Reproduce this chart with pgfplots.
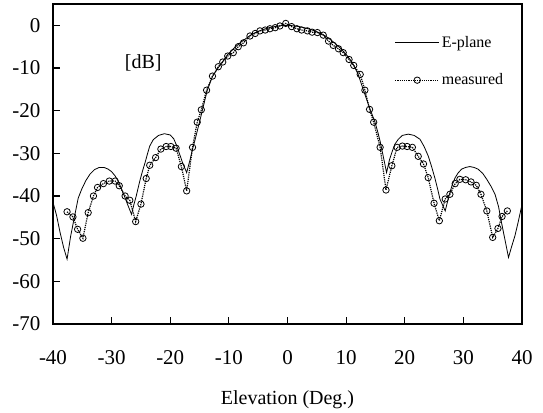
\documentclass[border=0pt]{standalone}
\usepackage{fontspec}
\setmainfont{Liberation Serif}
\usepackage{pgfplots}
\pgfplotsset{compat=1.18}
\usetikzlibrary{calc}

\begin{document}
\begin{tikzpicture}
\begin{axis}[
    scale only axis,
    width=469pt, height=320pt,
    xmin=-40, xmax=40,
    ymin=-70, ymax=5,
    xtick={-40,-30,...,40},
    ytick={-70,-60,...,0},
    tick pos=left,
    tick align=inside,
    major tick length=7pt,
    axis line style={line width=1.4pt},
    every tick/.style={black, line width=1.2pt},
    /pgf/number format/assume math mode=true,
    ticklabel style={font=\fontsize{21}{24}\selectfont},
    xticklabel style={yshift=-23pt},
    yticklabel style={xshift=-9pt},
    xlabel={Elevation (Deg.)},
    xlabel style={font=\fontsize{20}{24}\selectfont, yshift=-19pt},
    legend style={draw=none, fill=none, at={(0.728,0.906)}, anchor=north west,
        font=\fontsize{16}{19}\selectfont, row sep=21pt, inner sep=0pt},
    legend cell align=left,
    legend image code/.code={\draw[mark repeat=2,mark phase=2,#1] plot coordinates {(0pt,0pt) (22pt,0pt) (44pt,0pt)};},
]
% computed E-plane pattern
\addplot[black, line width=0.8pt] coordinates {
(-40,-41.5) (-39.4,-44.5) (-38.8,-48.5) (-38.2,-52) (-37.6,-54.8) (-37.0,-49.5)
(-36.5,-46.0) (-36.2,-43.9) (-35.7,-40.5) (-35.1,-38.4) (-34.4,-36.4) (-33.7,-34.9)
(-32.9,-33.8) (-32.1,-33.3) (-31.3,-33.3) (-30.6,-33.7) (-30.0,-34.3) (-29.4,-35.3)
(-28.8,-36.7) (-28.3,-38.4) (-27.8,-40.1) (-27.3,-41.9) (-26.6,-44.3) (-26.2,-42.0)
(-25.8,-40.0) (-25.2,-36.5) (-24.7,-34.0) (-24.3,-32.2) (-23.9,-30.2) (-23.5,-28.3)
(-22.9,-26.8) (-22.0,-25.8) (-21.0,-25.4) (-20.0,-25.7) (-19.4,-26.6) (-18.9,-28.2)
(-18.4,-30.2) (-17.9,-32.2) (-17.2,-34.5) (-16.6,-31.4) (-16.2,-29.0) (-15.8,-27.0)
(-15.0,-22.6) (-14.5,-19.8) (-13.7,-15.3) (-12.8,-12.0) (-11.8,-9.9) (-10.3,-7.0)
(-9,-5.2) (-8,-4.0) (-7,-3.0) (-6,-2.0) (-5,-1.4) (-4,-0.9) (-3,-0.5) (-2,-0.25)
(-1,-0.05) (0,0) (1,-0.1) (2,-0.3) (3,-0.6) (4,-1.0) (5,-1.5) (6,-2.1) (7,-3.0)
(8,-4.1) (9,-5.3) (10,-6.8) (11,-8.6) (12,-11.3) (12.9,-15.0) (14.1,-19.7)
(14.9,-22.6) (15.4,-25.0) (15.8,-27.2) (16.3,-30.5) (16.9,-34.5) (17.4,-31.5)
(17.8,-29.8) (18.3,-27.9) (18.9,-26.7) (19.6,-25.8) (20.6,-25.5) (21.6,-25.8)
(22.6,-26.7) (23.3,-28.4) (24.0,-30.6) (24.6,-33.2) (25.2,-36.1) (25.6,-38.3)
(26.0,-40.7) (26.9,-43.5) (27.3,-41.3) (27.7,-39.2) (28.1,-37.4) (28.6,-35.7)
(29.1,-34.6) (29.7,-33.7) (30.4,-33.3) (31.1,-33.1) (31.8,-33.3) (32.5,-33.7)
(33.3,-34.7) (34.0,-36.1) (34.7,-37.7) (35.4,-39.6) (36.0,-42.5) (36.5,-46.2)
(37.1,-50.3) (37.7,-54.4) (38.2,-52.0) (38.8,-49.3) (39.3,-46.4) (39.7,-43.9)
(40,-42.0)
};
\addlegendentry{E-plane}
% measured
\addplot[black, densely dotted, line width=1.2pt, mark=o,
    mark size=3.2pt, mark options={solid, line width=0.8pt}] coordinates {
(-37.6,-43.7) (-36.6,-44.9) (-35.8,-47.8) (-34.9,-49.9) (-34.0,-43.9) (-33.1,-40.0)
(-32.4,-38.0) (-31.4,-37.1) (-30.4,-36.5) (-29.4,-36.5) (-28.7,-37.6) (-27.7,-40.0)
(-26.9,-41.0) (-25.9,-46.0) (-25.0,-41.9) (-24.1,-35.9) (-23.5,-32.8) (-22.5,-31.0)
(-21.6,-29.0) (-20.7,-28.4) (-19.9,-28.4) (-19.0,-28.8) (-18.1,-33.1) (-17.2,-38.8)
(-16.2,-28.6) (-15.4,-22.7) (-14.7,-19.8) (-13.8,-15.2) (-12.8,-11.9) (-11.8,-9.7)
(-11.05,-8.6) (-10.2,-7.2) (-9.25,-6.4) (-8.4,-5.0) (-7.5,-4.1) (-6.4,-2.5)
(-5.5,-1.9) (-4.7,-1.3) (-3.8,-1.1) (-3.0,-0.8) (-2.1,-0.55) (-1.3,-0.15)
(-0.3,0.45) (0.7,-0.3) (1.6,-0.8) (2.4,-1.1) (3.4,-1.3) (4.2,-1.6) (5.1,-1.7)
(6.1,-2.3) (7.0,-3.7) (7.8,-4.7) (8.7,-5.5) (9.5,-6.4) (10.5,-8.0) (11.3,-9.4)
(12.4,-11.5) (13.2,-15.2) (14.0,-19.7) (14.7,-22.7) (15.8,-28.6) (16.8,-38.6)
(17.8,-32.9) (18.7,-28.6) (19.6,-28.3) (20.4,-28.4) (21.3,-28.6) (22.3,-30.7)
(23.2,-32.5) (24.0,-35.7) (25.0,-41.7) (25.9,-45.8) (26.9,-40.7) (27.7,-39.6)
(28.6,-37.1) (29.4,-36.1) (30.4,-36.2) (31.3,-36.7) (32.2,-37.5) (33.0,-39.6)
(34.0,-43.5) (35.0,-49.7) (35.9,-47.6) (36.6,-44.8) (37.5,-43.5)
};
\addlegendentry{measured}
\node[font=\fontsize{20}{24}\selectfont] at (axis cs:-24.6,-8.7) {[dB]};
\end{axis}
\pgfresetboundingbox
\path[use as bounding box] ($(current axis.south west)+(-53pt,-88pt)$) rectangle ($(current axis.north east)+(21pt,4pt)$);
\end{tikzpicture}
\end{document}
